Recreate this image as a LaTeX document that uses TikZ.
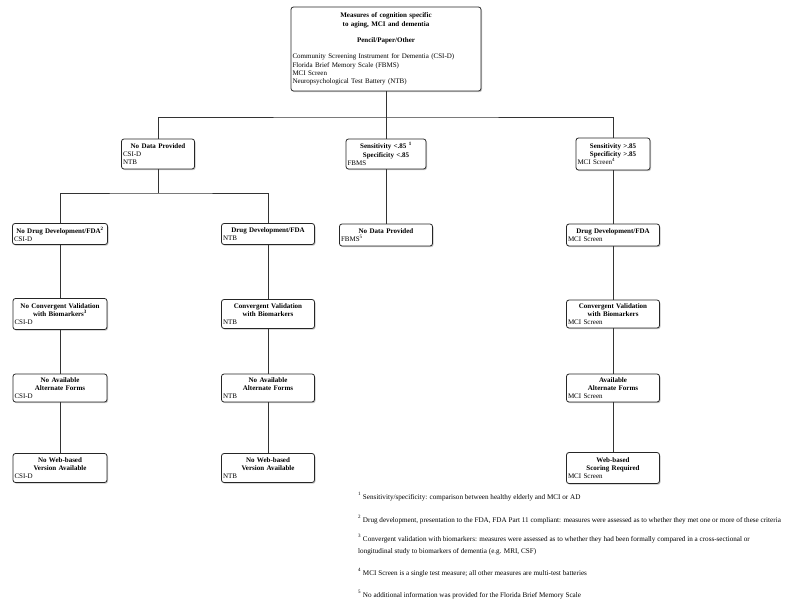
\documentclass[tikz,border=0pt]{standalone}
\usepackage{fontspec}
\setmainfont{Liberation Serif}
\usetikzlibrary{shadows}
\tikzset{
  box/.style={draw=black!85, line width=0.8pt, rounded corners=2.5pt, fill=white,
    drop shadow={shadow xshift=1pt, shadow yshift=-1.2pt, opacity=0.45},
    inner xsep=1.5pt, inner ysep=1pt, font=\fontsize{7}{8.2}\selectfont, align=left},
  conn/.style={draw=black!80, line width=1pt},
  fn/.style={anchor=base west, inner sep=0pt, font=\fontsize{7.15}{12}\selectfont, align=left}
}
\newcommand{\bxt}[2]{{\centering\bfseries #1\par}#2}
\begin{document}
\begin{tikzpicture}[x=1pt,y=-1pt]
\useasboundingbox (0,0) rectangle (800,605);
% row 1
\node[box, minimum width=190pt, minimum height=84pt, text width=187pt] (top) at (386,49)
 {{\centering\bfseries Measures of cognition specific\\to aging, MCI and dementia\\[8.2pt]Pencil/Paper/Other\par}\vspace{8.2pt}Community Screening Instrument for Dementia (CSI-D)\\Florida Brief Memory Scale (FBMS)\\MCI Screen\\Neuropsychological Test Battery (NTB)};
% row 2
\node[box, minimum width=73pt, minimum height=30pt, text width=70pt] (nodata) at (158,154)
 {\bxt{No Data Provided}{CSI-D\\NTB}};
\node[box, minimum width=80pt, minimum height=30pt, text width=77pt] (senslt) at (386,154)
 {\bxt{Sensitivity <.85 \textsuperscript{1}\\Specificity <.85}{FBMS}};
\node[box, minimum width=74pt, minimum height=32pt, text width=71pt] (sensgt) at (613,154)
 {\bxt{Sensitivity >.85\\Specificity >.85}{MCI Screen\textsuperscript{4}}};
% row 3
\node[box, minimum width=95pt, minimum height=21pt, text width=92pt] (nodrug) at (60,234)
 {\bxt{No Drug Development/FDA\textsuperscript{2}}{CSI-D}};
\node[box, minimum width=93pt, minimum height=21pt, text width=90pt] (drugntb) at (268,234)
 {\bxt{Drug Development/FDA}{NTB}};
\node[box, minimum width=93pt, minimum height=22pt, text width=90pt] (nodatafb) at (386,235)
 {\bxt{No Data Provided}{FBMS\textsuperscript{5}}};
\node[box, minimum width=93pt, minimum height=22pt, text width=90pt] (drugmci) at (613,235)
 {\bxt{Drug Development/FDA}{MCI Screen}};
% row 4
\node[box, minimum width=94pt, minimum height=31pt, text width=91pt] (noconv) at (60,314)
 {\bxt{No Convergent Validation\\with Biomarkers\textsuperscript{3}}{CSI-D}};
\node[box, minimum width=93pt, minimum height=29pt, text width=90pt] (convntb) at (268,314)
 {\bxt{Convergent Validation\\with Biomarkers}{NTB}};
\node[box, minimum width=93pt, minimum height=28pt, text width=90pt] (convmci) at (613,314)
 {\bxt{Convergent Validation\\with Biomarkers}{MCI Screen}};
% row 5
\node[box, minimum width=94pt, minimum height=28pt, text width=91pt] (noaltcsi) at (60,388)
 {\bxt{No Available\\Alternate Forms}{CSI-D}};
\node[box, minimum width=93pt, minimum height=28pt, text width=90pt] (noaltntb) at (268,388)
 {\bxt{No Available\\Alternate Forms}{NTB}};
\node[box, minimum width=93pt, minimum height=28pt, text width=90pt] (altmci) at (613,388)
 {\bxt{Available\\Alternate Forms}{MCI Screen}};
% row 6
\node[box, minimum width=94pt, minimum height=29pt, text width=91pt] (nowebcsi) at (60,468)
 {\bxt{No Web-based\\Version Available}{CSI-D}};
\node[box, minimum width=93pt, minimum height=29pt, text width=90pt] (nowebntb) at (268,468)
 {\bxt{No Web-based\\Version Available}{NTB}};
\node[box, minimum width=93pt, minimum height=31pt, text width=90pt] (webmci) at (613,468)
 {\bxt{Web-based\\Scoring Required}{MCI Screen}};
% connectors
\coordinate (j1) at (386,117);
\coordinate (j2) at (158,193);
\draw[conn] (top.south) -- (senslt.north);
\draw[conn] (nodata.north) |- (j1) -| (sensgt.north);
\draw[conn] (nodata.south) -- (j2);
\draw[conn] (nodrug.north) |- (j2) -| (drugntb.north);
\draw[conn] (senslt.south) -- (nodatafb.north);
\draw[conn] (sensgt.south) -- (drugmci.north);
\draw[conn] (nodrug.south) -- (noconv.north);
\draw[conn] (noconv.south) -- (noaltcsi.north);
\draw[conn] (noaltcsi.south) -- (nowebcsi.north);
\draw[conn] (drugntb.south) -- (convntb.north);
\draw[conn] (convntb.south) -- (noaltntb.north);
\draw[conn] (noaltntb.south) -- (nowebntb.north);
\draw[conn] (drugmci.south) -- (convmci.north);
\draw[conn] (convmci.south) -- (altmci.north);
\draw[conn] (altmci.south) -- (webmci.north);
% footnotes
\node[fn] (f1) at (358,499) {\textsuperscript{1} Sensitivity/specificity: comparison between healthy elderly and MCI or AD};
\node[fn] (f2) at (358,522) {\textsuperscript{2} Drug development, presentation to the FDA, FDA Part 11 compliant: measures were assessed as to whether they met one or more of these criteria};
\node[fn] (f3) at (358,553) {\textsuperscript{3} Convergent validation with biomarkers: measures were assessed as to whether they had been formally compared in a cross-sectional or\\longitudinal study to biomarkers of dementia (e.g. MRI, CSF)};
\node[fn] (f4) at (358,575) {\textsuperscript{4} MCI Screen is a single test measure; all other measures are multi-test batteries};
\node[fn] (f5) at (358,597) {\textsuperscript{5} No additional information was provided for the Florida Brief Memory Scale};
\end{tikzpicture}
\end{document}
